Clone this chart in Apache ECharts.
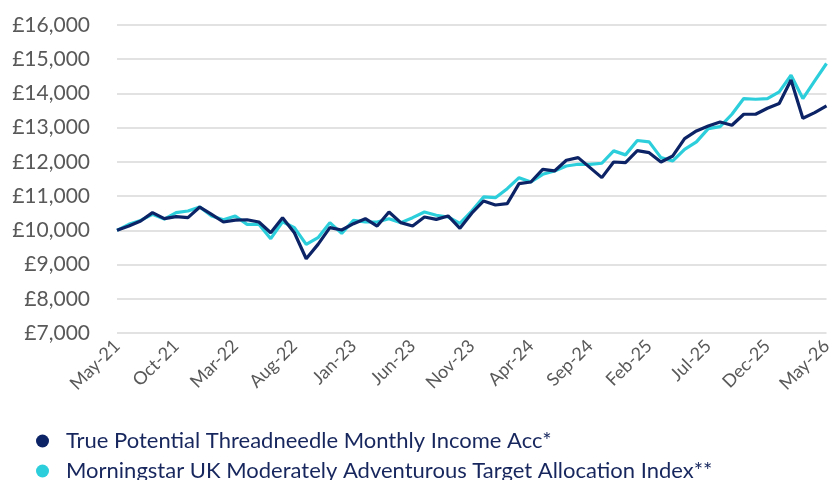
<!DOCTYPE html>
<html>
<head>
<meta charset="utf-8">
<script src="https://cdn.jsdelivr.net/npm/echarts@6/dist/echarts.min.js"></script>
<style>html,body{margin:0;padding:0;background:#fff}#c{width:835px;height:480px}</style>
</head>
<body>
<div id="c"></div>
<script>
var months = ["May-21","Jun-21","Jul-21","Aug-21","Sep-21","Oct-21","Nov-21","Dec-21","Jan-22","Feb-22","Mar-22","Apr-22",
"May-22","Jun-22","Jul-22","Aug-22","Sep-22","Oct-22","Nov-22","Dec-22","Jan-23","Feb-23","Mar-23","Apr-23",
"May-23","Jun-23","Jul-23","Aug-23","Sep-23","Oct-23","Nov-23","Dec-23","Jan-24","Feb-24","Mar-24","Apr-24",
"May-24","Jun-24","Jul-24","Aug-24","Sep-24","Oct-24","Nov-24","Dec-24","Jan-25","Feb-25","Mar-25","Apr-25",
"May-25","Jun-25","Jul-25","Aug-25","Sep-25","Oct-25","Nov-25","Dec-25","Jan-26","Feb-26","Mar-26","Apr-26","May-26"];
var fundName = "True Potential Threadneedle Monthly Income Acc*";
var indexName = "Morningstar UK Moderately Adventurous Target Allocation Index**";
var fundValues = [10000,10126,10272,10517,10340,10400,10370,10680,10468,10243,10300,10310,
10243,9930,10370,9930,9170,9590,10080,10010,10195,10340,10126,10535,
10225,10126,10390,10320,10420,10060,10500,10857,10740,10780,11365,11412,
11783,11735,12047,12125,11833,11540,11997,11980,12330,12270,11997,12173,
12680,12904,13050,13167,13070,13392,13392,13567,13705,14395,13275,13440,13635];
var indexValues = [10000,10175,10290,10470,10330,10517,10565,10680,10420,10310,10420,10175,
10175,9757,10250,10080,9590,9785,10225,9912,10292,10243,10243,10340,
10225,10370,10535,10440,10390,10205,10565,10975,10955,11218,11540,11412,
11637,11735,11880,11930,11930,11960,12322,12205,12625,12585,12125,12027,
12368,12585,12973,13032,13392,13850,13830,13850,14045,14532,13850,14365,14875];
var yMin = 7000, yMax = 16000, yStep = 1000;

var legendText = {fontFamily: 'Lato', fontSize: 22, color: '#17275e', padding: [0,0,0,12]};
var chart = echarts.init(document.getElementById('c'));
chart.setOption({
  animation: false,
  textStyle: {fontFamily: 'Lato'},
  grid: {left: 117, right: 2, top: 25, bottom: 147},
  legend: [
    {left: 31, top: 425, icon: 'circle', itemWidth: 13, itemHeight: 13, textStyle: legendText, data: [fundName]},
    {left: 31, top: 455, icon: 'circle', itemWidth: 13, itemHeight: 13, textStyle: legendText, data: [indexName]}
  ],
  xAxis: {
    type: 'category', data: months, boundaryGap: false,
    axisLine: {show: false}, axisTick: {show: false},
    axisLabel: {interval: 4, rotate: 45, fontSize: 18, color: '#595959', margin: 10, fontFamily: 'Lato'}
  },
  yAxis: {
    type: 'value', min: yMin, max: yMax, interval: yStep,
    axisLine: {show: false}, axisTick: {show: false},
    splitLine: {lineStyle: {color: '#d9d9d9', width: 1.5}},
    axisLabel: {fontSize: 21, color: '#595959', margin: 27, fontFamily: 'Lato',
      formatter: function(v){ return '£' + v.toLocaleString('en-GB'); }}
  },
  series: [
    {name: indexName, type: 'line', data: indexValues, showSymbol: false, symbol: 'circle',
     lineStyle: {color: '#2dcedb', width: 3.2}, itemStyle: {color: '#2dcedb'}, z: 2},
    {name: fundName, type: 'line', data: fundValues, showSymbol: false, symbol: 'circle',
     lineStyle: {color: '#0c2466', width: 3.2}, itemStyle: {color: '#0c2466'}, z: 3}
  ]
});
</script>
</body>
</html>
